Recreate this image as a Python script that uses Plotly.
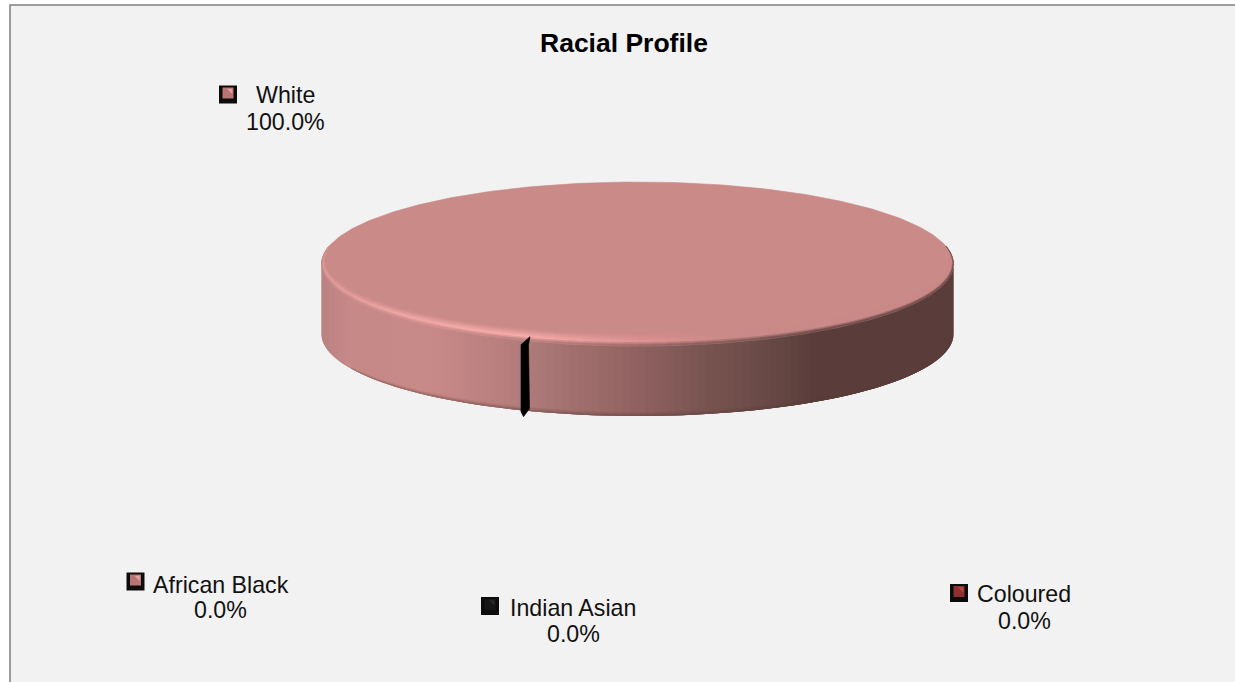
import math
import plotly.graph_objects as go

# Racial profile shares, in percent
categories = ["African Black", "Indian Asian", "Coloured", "White"]
shares = [0.0, 0.0, 0.0, 100.0]
share_labels = ["0.0%", "0.0%", "0.0%", "100.0%"]

# Key square colours: centre and its lit corner
key_colours = {"African Black": "#b87472", "Indian Asian": "#161616",
               "Coloured": "#8f2f2f", "White": "#b87472"}
key_lights = {"African Black": "#e0a3a1", "Indian Asian": "#2a2a2a",
              "Coloured": "#b84a48", "White": "#e0a3a1"}

# Anchors for the labels and their key squares (pixel axes)
label_centre = {"African Black": (220.5, 585, 610), "Indian Asian": (573, 608, 634),
                "Coloured": (1024, 594, 621), "White": (285, 95, 122)}
key_centre = {"African Black": (135.5, 581.5), "Indian Asian": (490, 606),
              "Coloured": (959, 593), "White": (228, 94.5)}

# Disc geometry
CX, CY, RX, RY, DEPTH = 637.5, 264, 316, 82, 70
START = math.acos((525.5 - CX) / RX)  # first slice boundary, measured on the front edge
TOP = (202, 138, 136)
WALL_STOPS = [(322, (186, 131, 130)), (350, (198, 137, 135)), (430, (200, 138, 136)),
              (500, (184, 127, 125)), (530, (173, 122, 120)), (600, (154, 106, 104)),
              (640, (143, 97, 96)), (700, (122, 85, 82)), (760, (106, 75, 71)),
              (815, (90, 61, 58)), (953, (90, 61, 58))]
RIM_STOPS = [(322, (226, 156, 154)), (400, (244, 170, 168)), (520, (250, 174, 172)),
             (640, (226, 148, 148)), (720, (202, 138, 136)), (953, (202, 138, 136))]
BASE_DARK = (88, 58, 56)


def lerp(a, b, t):
    return tuple(a[i] + (b[i] - a[i]) * t for i in range(3))


def ramp(stops, x):
    if x <= stops[0][0]:
        return stops[0][1]
    for (x0, c0), (x1, c1) in zip(stops, stops[1:]):
        if x <= x1:
            return lerp(c0, c1, (x - x0) / (x1 - x0))
    return stops[-1][1]


def css(c):
    return "rgb(%d,%d,%d)" % tuple(round(v) for v in c)


def polygon(xs, ys, colour, width=0.6):
    return go.Scatter(x=xs + xs[:1], y=ys + ys[:1], mode="lines", fill="toself",
                      fillcolor=colour, hoverinfo="skip",
                      line=dict(color=colour, width=width))


def ellipse_point(theta, inset=0.0):
    return (CX + (RX - 8 * inset) * math.cos(theta),
            CY + (RY - 12 * inset) * math.sin(theta))


traces = []

# Cumulative slice boundaries come straight from the shares
total = sum(shares)
boundaries = [START]
for s in shares:
    boundaries.append(boundaries[-1] + 2 * math.pi * s / total)

# Side wall painted left to right; each strip runs under the next one so no seams show
N = 130
front = [math.pi * i / N for i in range(N + 1)]
for i in range(N - 1, -1, -1):
    xa, ya = ellipse_point(front[i + 1])
    xm, _ = ellipse_point(front[i])
    xb, yb = ellipse_point(front[max(i - 1, 0)])
    shade = ramp(WALL_STOPS, (xa + xm) / 2)
    traces.append(polygon([xa, xb, xb, xa], [ya, yb, yb + DEPTH, ya + DEPTH], css(shade), 0))
    # Rounded lower edge of the wall
    lift = 4 * math.sin(front[i])
    for k in range(2):
        colour = css(lerp(shade, BASE_DARK, 0.15 + 0.25 * k))
        y0 = lift * (1 - k / 2)
        y1 = lift * (1 - (k + 1) / 2)
        traces.append(polygon([xa, xb, xb, xa],
                              [ya + DEPTH - y0, yb + DEPTH - y0,
                               yb + DEPTH - y1, ya + DEPTH - y1], colour, 0))

# Top face, one sector per non-empty slice
for s, b0, b1 in zip(shares, boundaries, boundaries[1:]):
    if s <= 0:
        continue
    n = max(2, int(360 * s / total))
    pts = [ellipse_point(b0 + (b1 - b0) * i / n) for i in range(n + 1)]
    traces.append(polygon([p[0] for p in pts], [p[1] for p in pts], css(TOP)))

# Bevel between top face and wall
M = 80
SPREAD = 0.22
LEVELS = 7
arc = [-SPREAD + (math.pi + 2 * SPREAD) * i / M for i in range(M + 1)]


def taper(theta):
    return min(1.0, max(0.0, min(theta + SPREAD, math.pi + SPREAD - theta) / (2 * SPREAD)))


for a, b in zip(arc, arc[1:]):
    mid_x = ellipse_point((a + b) / 2)[0]
    wall = ramp(WALL_STOPS, mid_x)
    hi = ramp(RIM_STOPS, mid_x)
    for k in range(LEVELS):
        u0, u1 = 1 - k / LEVELS, 1 - (k + 1) / LEVELS
        pa0, pb0 = ellipse_point(a, u0 * taper(a)), ellipse_point(b, u0 * taper(b))
        pa1, pb1 = ellipse_point(a, u1 * taper(a)), ellipse_point(b, u1 * taper(b))
        w = (k + 0.5) / LEVELS
        colour = lerp(TOP, hi, w / 0.65) if w < 0.65 else lerp(hi, wall, (w - 0.65) / 0.35)
        traces.append(polygon([pa0[0], pb0[0], pb1[0], pa1[0]],
                              [pa0[1], pb0[1], pb1[1], pa1[1]], css(colour)))

# The empty Indian Asian slice shows as a dark seam on the wall
for cat, s, b0 in zip(categories, shares, boundaries):
    if cat == "Indian Asian" and s == 0:
        sx, sy = ellipse_point(b0)
        traces.append(polygon(
            [sx + 4.5, sx + 3, sx + 4, sx - 2, sx - 4.5, sx - 4.5],
            [sy - 4, sy + 4, sy + DEPTH - 2, sy + DEPTH + 6, sy + DEPTH + 1, sy + 4],
            "#000000"))

# Key squares: dark frame, shaded centre with a lit upper-right corner
for cat in categories:
    kx, ky = key_centre[cat]
    traces.append(go.Scatter(x=[kx], y=[ky], mode="markers", hoverinfo="skip",
                             marker=dict(symbol="square", size=18, color="#0c0c0c",
                                         line=dict(width=0))))
    traces.append(go.Scatter(x=[kx], y=[ky - 1.5], mode="markers", hoverinfo="skip",
                             marker=dict(symbol="square", size=11, color=key_colours[cat],
                                         line=dict(width=0))))
    traces.append(go.Scatter(x=[kx + 2.5], y=[ky - 4], mode="markers", hoverinfo="skip",
                             marker=dict(symbol="triangle-ne", size=6, color=key_lights[cat],
                                         line=dict(width=0))))

annotations = [
    dict(x=624, y=43, text="<b>Racial Profile</b>", showarrow=False,
         font=dict(size=26.5, color="#000000"), xanchor="center", yanchor="middle"),
]
for cat, lab in zip(categories, share_labels):
    lx, y1, y2 = label_centre[cat]
    annotations.append(dict(x=lx, y=y1, text=cat, showarrow=False, xanchor="center",
                            yanchor="middle", font=dict(size=23.2, color="#111111")))
    annotations.append(dict(x=lx, y=y2, text=lab, showarrow=False, xanchor="center",
                            yanchor="middle", font=dict(size=23.2, color="#111111")))

fig = go.Figure(traces)
fig.update_layout(
    width=1235, height=682, margin=dict(l=0, r=0, t=0, b=0),
    paper_bgcolor="#ffffff", plot_bgcolor="#ffffff", showlegend=False,
    font=dict(family="Liberation Sans, Arial, sans-serif"),
    xaxis=dict(range=[0, 1235], visible=False, fixedrange=True),
    yaxis=dict(range=[682, 0], visible=False, fixedrange=True),
    annotations=annotations,
    shapes=[dict(type="rect", x0=10, y0=5, x1=1300, y1=760, layer="below",
                 fillcolor="#f2f2f2", line=dict(color="#7f7f7f", width=1.5))],
)
fig.write_html("out.html", config=dict(displayModeBar=False))
